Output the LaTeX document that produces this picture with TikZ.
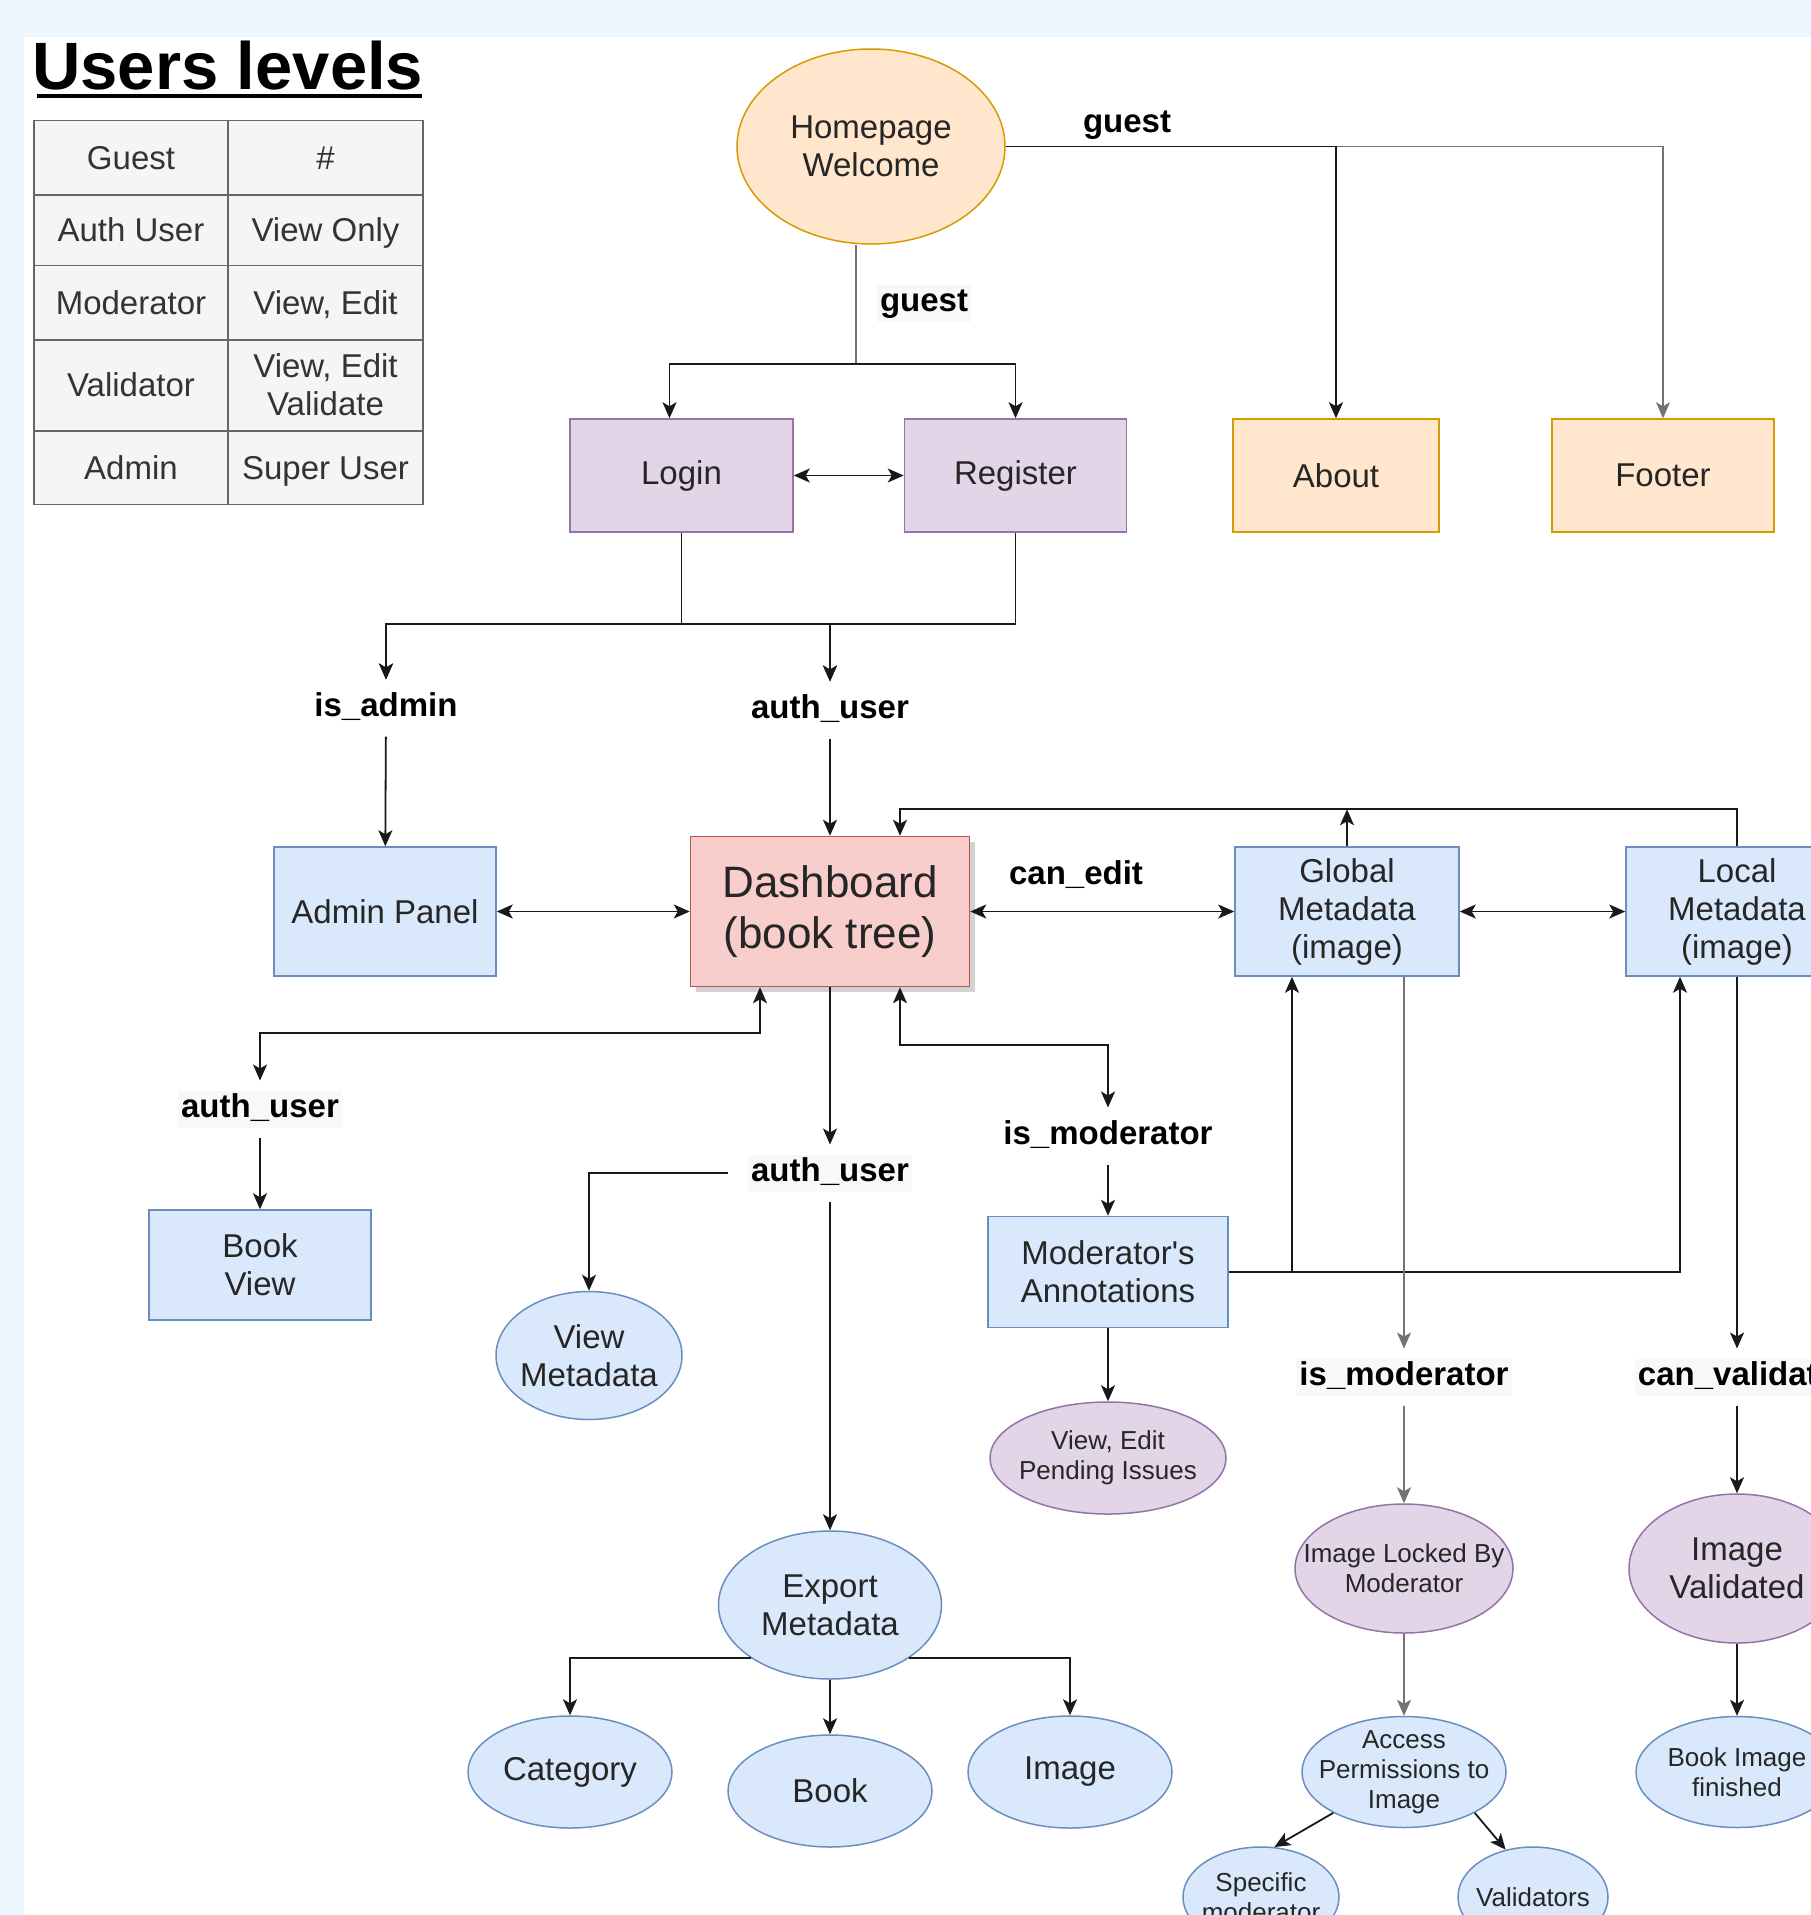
\documentclass[tikz,border=0pt]{standalone}
\usepackage{fontspec}
\setmainfont{Liberation Sans}
\usetikzlibrary{arrows.meta,shapes.geometric,shadows}

\definecolor{pagebg}{HTML}{EEF6FD}
\definecolor{bluefill}{HTML}{DAE8FC}
\definecolor{blueline}{HTML}{6C8EBF}
\definecolor{purplefill}{HTML}{E1D5E7}
\definecolor{purpleline}{HTML}{9673A6}
\definecolor{orangefill}{HTML}{FFE6CC}
\definecolor{orangeline}{HTML}{D79B00}
\definecolor{redfill}{HTML}{F8CECC}
\definecolor{redline}{HTML}{B85450}
\definecolor{cellfill}{HTML}{F5F5F5}
\definecolor{cellline}{HTML}{666666}
\definecolor{lblfill}{HTML}{F6F8FA}

\newcommand{\nodefont}{\fontsize{33}{38}\selectfont}
\newcommand{\smallnodefont}{\fontsize{26}{30}\selectfont}
\newcommand{\cellstrut}{\rule[-7pt]{0pt}{37pt}}

\tikzset{
	box/.style={rectangle, draw, line width=1.5pt, align=center, font=\nodefont, text=black!85},
	inside/.style={align=center, font=\nodefont, text=black!85, inner sep=0pt},
	smallinside/.style={inside, font=\smallnodefont},
	oval/.style={ellipse, draw, line width=1.5pt, inner sep=0pt, label={[inside]center:#1}},
	smalloval/.style={ellipse, draw, line width=1.5pt, inner sep=0pt, label={[smallinside]center:#1}},
	bluefilled/.style={fill=bluefill, draw=blueline},
	purplefilled/.style={fill=purplefill, draw=purpleline},
	orangefilled/.style={fill=orangefill, draw=orangeline},
	redfilled/.style={fill=redfill, draw=redline},
	cell/.style={rectangle, draw=cellline, fill=cellfill, line width=1.8pt, align=center, font=\nodefont, text=black!80},
	lbl/.style={font=\bfseries\nodefont, text height=24pt, text depth=7pt, inner sep=3pt, outer xsep=20pt, outer ysep=10pt},
	lblbg/.style={lbl, fill=lblfill},
	tip/.tip={Stealth[length=16pt,width=14pt,inset=4pt]},
	arr/.style={-tip, line width=1.8pt, draw=black!90},
	dbl/.style={tip-tip, line width=1.8pt, draw=black!90},
	thinline/.style={line width=1.2pt, draw=black!55},
	thinarr/.style={-tip, thinline}
}

\begin{document}
\begin{tikzpicture}[x=1pt, y=-1pt]
	\useasboundingbox (0,0) rectangle (1811,1915);
	\clip (0,0) rectangle (1811,1915);
	\fill[pagebg] (0,0) rectangle (1811,1915);
	\fill[white] (23.5,37) rectangle (1811,1915);

	\node[anchor=base west, inner sep=0pt, font=\bfseries\fontsize{67}{74}\selectfont] (title) at (32,89) {Users levels};
	\draw[line width=4.5pt] ([xshift=5pt,yshift=-7pt]title.base west) -- ([xshift=-2pt,yshift=-7pt]title.base east);

	\foreach \cy/\ch/\level/\rights [count=\i] in {157.6/74.2/Guest/\#, 230.1/70.8/Auth User/View Only, 302.6/74.3/Moderator/{View, Edit}, 385.2/90.9/Validator/{View, Edit\\Validate}, 467.6/73.8/Admin/Super User} {
		\node[cell, minimum width=194pt, minimum height=\ch pt] (level\i) at (131,\cy) {\cellstrut\level\cellstrut};
		\node[cell, minimum width=195pt, minimum height=\ch pt] (rights\i) at (325.5,\cy) {\cellstrut\rights\cellstrut};
	}

	\node[oval={Homepage\\Welcome}, orangefilled, minimum width=268pt, minimum height=195pt] (home) at (871,146.5) {};
	\node[box, purplefilled, minimum width=223pt, minimum height=113pt] (login) at (681.5,475.5) {Login};
	\node[box, purplefilled, minimum width=222pt, minimum height=113pt] (register) at (1015.5,475.5) {Register};
	\node[box, orangefilled, minimum width=206pt, minimum height=113pt] (about) at (1336,475.5) {About};
	\node[box, orangefilled, minimum width=222pt, minimum height=113pt] (footer) at (1663,475.5) {Footer};
	\node[lbl] (guesttop) at (1127,124) {guest};
	\node[lblbg] (guestmid) at (924,303) {guest};

	\node[lbl] (isadmin) at (386,708) {is\_admin};
	\node[lbl] (authtop) at (830,710) {auth\_user};
	\node[box, bluefilled, minimum width=222pt, minimum height=129pt] (admin) at (385,911.5) {Admin Panel};
	\node[box, redfilled, font=\fontsize{44}{51}\selectfont, minimum width=279pt, minimum height=150pt, drop shadow={shadow xshift=5pt, shadow yshift=-5pt, fill=black!35}] (dash) at (830,911.5) {Dashboard\\(book tree)};
	\node[lbl] (canedit) at (1076,876) {can\_edit};
	\node[box, bluefilled, minimum width=224pt, minimum height=129pt] (global) at (1347,911.5) {Global\\Metadata\\(image)};
	\node[box, bluefilled, minimum width=222pt, minimum height=129pt] (local) at (1737,911.5) {Local\\Metadata\\(image)};

	\node[lblbg] (authleft) at (260,1109) {auth\_user};
	\node[box, bluefilled, minimum width=222pt, minimum height=110pt] (bookview) at (260,1265) {Book\\View};
	\node[lblbg] (authmid) at (830,1173) {auth\_user};
	\node[oval={View\\Metadata}, bluefilled, minimum width=186pt, minimum height=128pt] (viewmeta) at (589,1355.5) {};
	\node[oval={Export\\Metadata}, bluefilled, minimum width=223pt, minimum height=148pt] (export) at (830,1605) {};
	\node[oval={Category}, bluefilled, minimum width=204pt, minimum height=112pt] (category) at (570,1772) {};
	\node[oval={Book}, bluefilled, minimum width=204pt, minimum height=112pt] (book) at (830,1791) {};
	\node[oval={Image}, bluefilled, minimum width=204pt, minimum height=112pt] (image) at (1070,1772) {};

	\node[lbl] (ismodleft) at (1108,1136) {is\_moderator};
	\node[box, bluefilled, minimum width=240pt, minimum height=111pt] (modnotes) at (1108,1272) {Moderator\textquotesingle s\\Annotations};
	\node[smalloval={View, Edit\\Pending Issues}, purplefilled, minimum width=236pt, minimum height=112pt] (pending) at (1108,1458) {};

	\node[lblbg] (ismodright) at (1404,1377) {is\_moderator};
	\node[lblbg] (canval) at (1737,1377) {can\_validate};
	\node[smalloval={Image Locked By\\Moderator}, purplefilled, minimum width=218pt, minimum height=129pt] (locked) at (1404,1568.5) {};
	\node[oval={Image\\Validated}, purplefilled, minimum width=216pt, minimum height=149pt] (validated) at (1737,1568.5) {};
	\node[smalloval={Access\\Permissions to\\Image}, bluefilled, minimum width=204pt, minimum height=111pt] (access) at (1404,1772) {};
	\node[smalloval={Book Image\\finished}, bluefilled, minimum width=202pt, minimum height=111pt] (finished) at (1737,1772) {};
	\node[smalloval={Specific\\moderator}, bluefilled, minimum width=156pt, minimum height=100pt] (specific) at (1261,1897) {};
	\node[smalloval={Validators}, bluefilled, minimum width=150pt, minimum height=100pt] (validators) at (1533,1897) {};

	\draw[thinarr] (home.east) -| (footer);
	\draw[arr] (home.east) -| (about);
	\draw[thinline] ([xshift=-15pt]home.south) -- ++(0,119) coordinate (guestsplit);
	\draw[arr] (guestsplit) -| ([xshift=-12pt]login.north);
	\draw[arr] (guestsplit) -| (register);
	\draw[dbl] (login) -- (register);

	\draw[arr] (login.south) -- ++(0,91) -| (isadmin);
	\draw[arr] (login.south) -- ++(0,91) -| (authtop);
	\draw[arr] (register.south) -- ++(0,91) -| (isadmin);
	\draw[arr] (register.south) -- ++(0,91) -| (authtop);
	\draw[arr] (isadmin) -- (admin);
	\draw[arr] (authtop) -- (dash);
	\draw[dbl] (admin) -- (dash);
	\draw[dbl] (dash) -- (global);
	\draw[dbl] (global) -- (local);
	\draw[arr] (local.north) -- ++(0,-37) -| ([xshift=70pt]dash.north);
	\draw[arr] (global.north) -- ++(0,-37);

	\draw[arr] (dash) -- (authmid);
	\draw[dbl] ([xshift=-70pt]dash.south) -- ++(0,46) -| (authleft);
	\draw[dbl] ([xshift=70pt]dash.south) -- ++(0,58) -| (ismodleft);
	\draw[arr] (authleft) -- (bookview);
	\draw[arr] (authmid.west) -| (viewmeta);
	\draw[arr] (authmid) -- (export);
	\draw[arr] (export.south west) -| (category);
	\draw[arr] (export.south east) -| (image);
	\draw[arr] (export) -- (book);

	\draw[arr] (ismodleft) -- (modnotes);
	\draw[arr] (modnotes) -- (pending);
	\draw[arr] (modnotes.east) -| ([xshift=-55pt]global.south);
	\draw[arr] (modnotes.east) -| ([xshift=-57pt]local.south);
	\draw[thinarr] ([xshift=57pt]global.south) -- (ismodright);
	\draw[arr] (local.south) -- (canval);
	\draw[thinarr] (ismodright) -- (locked);
	\draw[thinarr] (locked) -- (access);
	\draw[arr] (canval) -- (validated);
	\draw[arr] (validated) -- (finished);
	\draw[arr] (access.210) -- (specific.75);
	\draw[arr] (access.330) -- (validators.120);
\end{tikzpicture}
\end{document}
